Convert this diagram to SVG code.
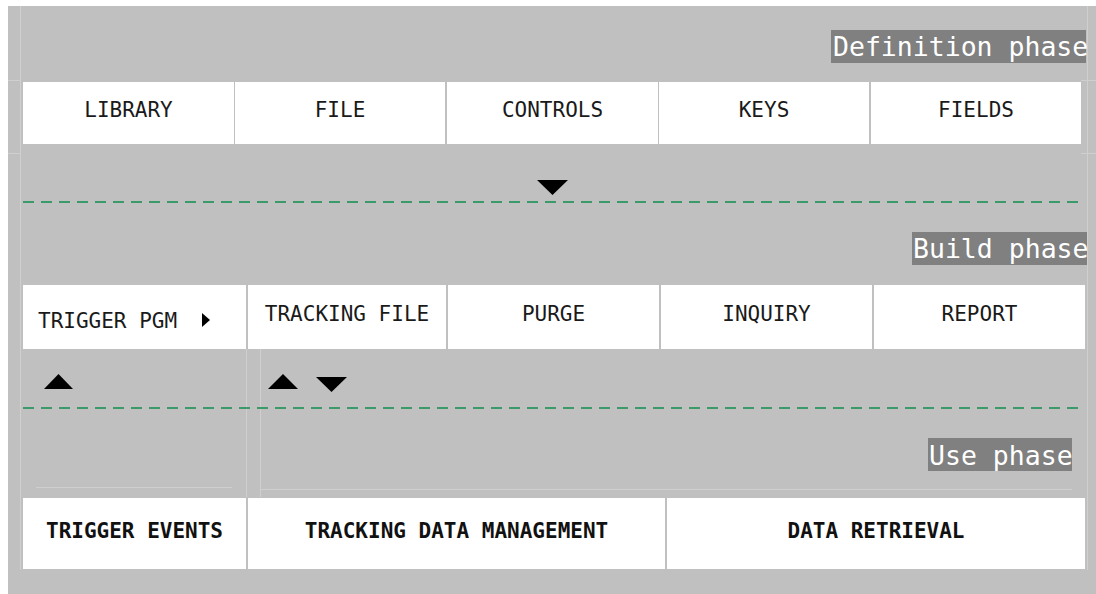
<svg xmlns="http://www.w3.org/2000/svg" width="1096" height="594" viewBox="0 0 1096 594">
<style>
.bg{fill:#c0c0c0}
.cell{fill:#ffffff}
.t{font-family:"DejaVu Sans Mono","Liberation Mono",monospace;font-size:21px;fill:#1a1a1a;text-anchor:middle}
.tb{font-family:"DejaVu Sans Mono","Liberation Mono",monospace;font-size:21px;font-weight:bold;fill:#111111;text-anchor:middle}
.lbox{fill:#808080}
.lt{font-family:"DejaVu Sans Mono","Liberation Mono",monospace;font-size:26.5px;fill:#ffffff}
.faint{stroke:#cfcfcf;stroke-width:1;fill:none}
.dash{stroke:#3a9a6a;stroke-width:2;stroke-dasharray:11 7;fill:none}
.arr{fill:#000000}
</style>
<rect class="bg" x="8" y="6" width="1088" height="588"/>
<g id="frame">
<path class="faint" d="M20.5 6V570M8 80.5H21M8 153.5H21M1087.5 6V570M1081 80.5H1096M1081 153.5H1096M246.5 349V497M260.5 349V497M36 487.5H232M261 489.5H1072"/>
</g>
<g id="label-definition"><rect class="lbox" x="831" y="30" width="255" height="33"/><text class="lt" x="833" y="56">Definition phase</text></g>
<g id="label-build"><rect class="lbox" x="912" y="232" width="175" height="33"/><text class="lt" x="913" y="258">Build phase</text></g>
<g id="label-use"><rect class="lbox" x="928" y="438" width="144" height="33"/><text class="lt" x="929" y="465">Use phase</text></g>
<g id="library"><rect class="cell" x="23" y="82" width="211" height="62"/><text class="t" x="128.5" y="117">LIBRARY</text></g>
<g id="file"><rect class="cell" x="235" y="82" width="210" height="62"/><text class="t" x="340" y="117">FILE</text></g>
<g id="controls"><rect class="cell" x="447" y="82" width="211" height="62"/><text class="t" x="552.5" y="117">CONTROLS</text></g>
<g id="keys"><rect class="cell" x="659" y="82" width="210" height="62"/><text class="t" x="764" y="117">KEYS</text></g>
<g id="fields"><rect class="cell" x="871" y="82" width="210" height="62"/><text class="t" x="976" y="117">FIELDS</text></g>
<g id="trigger-pgm"><rect class="cell" x="23" y="285" width="223" height="64"/><text class="t" x="38" y="328" style="text-anchor:start">TRIGGER PGM</text><polygon class="arr" points="202,313 210,320 202,327"/></g>
<g id="tracking-file"><rect class="cell" x="248" y="285" width="198" height="64"/><text class="t" x="347" y="321">TRACKING FILE</text></g>
<g id="purge"><rect class="cell" x="448" y="285" width="211" height="64"/><text class="t" x="553.5" y="321">PURGE</text></g>
<g id="inquiry"><rect class="cell" x="661" y="285" width="211" height="64"/><text class="t" x="766.5" y="321">INQUIRY</text></g>
<g id="report"><rect class="cell" x="874" y="285" width="211" height="64"/><text class="t" x="979.5" y="321">REPORT</text></g>
<g id="trigger-events"><rect class="cell" x="23" y="498" width="223" height="71"/><text class="tb" x="134.5" y="538">TRIGGER EVENTS</text></g>
<g id="tracking-data-management"><rect class="cell" x="248" y="498" width="417" height="71"/><text class="tb" x="456.5" y="538">TRACKING DATA MANAGEMENT</text></g>
<g id="data-retrieval"><rect class="cell" x="667" y="498" width="418" height="71"/><text class="tb" x="876" y="538">DATA RETRIEVAL</text></g>
<g id="connectors">
<line class="dash" x1="23" y1="202" x2="1082" y2="202"/>
<line class="dash" x1="23" y1="408" x2="1082" y2="408"/>
<polygon class="arr" points="537,180 568,180 552.5,195"/>
<polygon class="arr" points="44,389 73,389 58.5,374"/>
<polygon class="arr" points="268,389 298,389 283,374"/>
<polygon class="arr" points="316,377 347,377 331.5,392"/>
</g>
</svg>
